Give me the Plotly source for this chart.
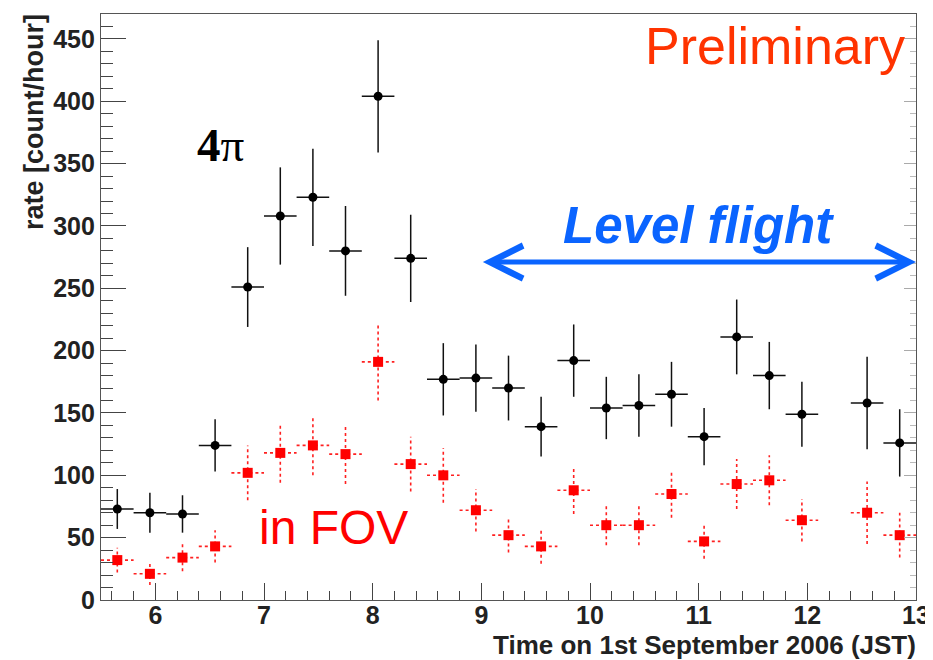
import plotly.graph_objects as go

# ---- data ----
time_center = [5.65, 5.95, 6.25, 6.55, 6.85, 7.15, 7.45, 7.75, 8.05, 8.35, 8.65, 8.95,
               9.25, 9.55, 9.85, 10.15, 10.45, 10.75, 11.05, 11.35, 11.65, 11.95, 12.55, 12.85]
bin_half_width = [0.15] * len(time_center)

rate_4pi = [73, 70, 69, 124, 251, 308, 323, 280, 404, 274, 177, 178,
            170, 139, 192, 154, 156, 165, 131, 211, 180, 149, 158, 126]
err_4pi = [16, 16, 15, 21, 32, 39, 39, 36, 45, 35, 29, 27,
           26, 24, 29, 25, 25, 26, 23, 30, 27, 26, 37, 27]

rate_fov = [32, 21, 34, 43, 102, 118, 124, 117, 191, 109, 100, 72,
            52, 43, 88, 60, 60, 85, 47, 93, 96, 64, 70, 52]
err_fov = [10, 9, 11, 13, 22, 24, 24, 24, 31, 22, 22, 17,
           14, 14, 19, 16, 16, 19, 14, 20, 20, 17, 25, 18]

x_ticks = [6, 7, 8, 9, 10, 11, 12, 13]
y_ticks = [0, 50, 100, 150, 200, 250, 300, 350, 400, 450]
level_flight = [9.0, 13.0]

fig = go.Figure()

# red dotted error bars (in FOV)
ex, ey = [], []
for xc, yc, e, hw in zip(time_center, rate_fov, err_fov, bin_half_width):
    ex += [xc, xc, None, xc - hw, xc + hw, None]
    ey += [yc - e, yc + e, None, yc, yc, None]
fig.add_trace(go.Scatter(x=ex, y=ey, mode="lines",
                         line=dict(color="#ff2020", width=1.6, dash="dot"),
                         hoverinfo="skip", showlegend=False))
fig.add_trace(go.Scatter(x=time_center, y=rate_fov, mode="markers",
                         marker=dict(symbol="square", size=10, color="#ff0000"),
                         name="in FOV", showlegend=False))

# black (4pi)
fig.add_trace(go.Scatter(
    x=time_center, y=rate_4pi, mode="markers",
    marker=dict(symbol="circle", size=9, color="#000000"),
    error_y=dict(type="data", array=err_4pi, color="#111111", thickness=1.5, width=0),
    error_x=dict(type="data", array=bin_half_width, color="#111111", thickness=1.5, width=0),
    name="4pi", showlegend=False))

# invisible trace to carry the right-hand tick axis
fig.add_trace(go.Scatter(x=time_center, y=rate_4pi, yaxis="y2", mode="markers",
                         marker=dict(opacity=0), hoverinfo="skip", showlegend=False))

tickfont = dict(family="Liberation Sans", size=25, color="#222222", weight="bold")

fig.update_layout(
    width=933, height=660,
    margin=dict(l=93, r=25, t=6, b=68),
    paper_bgcolor="white", plot_bgcolor="white",
    xaxis=dict(range=[5.5, 13], tickvals=x_ticks, ticks="inside", ticklen=17,
               tickcolor="#444", tickwidth=1, showgrid=False, zeroline=False,
               showline=True, linecolor="#555", linewidth=1.2, mirror=True,
               tickfont=tickfont, ticklabelstandoff=-7, automargin=False,
               minor=dict(ticks="inside", ticklen=9, dtick=0.2, tick0=5.6,
                          tickcolor="#444", showgrid=False)),
    yaxis=dict(range=[0, 470], tickvals=y_ticks, ticks="inside", ticklen=25,
               tickcolor="#444", tickwidth=1, showgrid=False, zeroline=False,
               showline=True, linecolor="#555", linewidth=1.2, mirror=True,
               tickfont=tickfont, ticklabelstandoff=0, automargin=False,
               minor=dict(ticks="inside", ticklen=12, dtick=10,
                          tickcolor="#444", showgrid=False)),
    yaxis2=dict(range=[0, 470], overlaying="y", side="right", tickvals=y_ticks,
                ticks="inside", ticklen=12, tickcolor="#aaa", showticklabels=False,
                showgrid=False, zeroline=False, showline=False, automargin=False,
                minor=dict(ticks="inside", ticklen=6, dtick=10, tickcolor="#bbb",
                           showgrid=False)),
)

# axis titles
fig.add_annotation(text="rate [count/hour]", xref="paper", yref="paper",
                   x=0, y=1, xanchor="right", yanchor="top", xshift=-50, yshift=2,
                   textangle=-90, showarrow=False,
                   font=dict(family="Liberation Sans", size=27, color="#222", weight="bold"))
fig.add_annotation(text="Time on 1st September 2006 (JST)", xref="paper", yref="paper",
                   x=1, y=0, xanchor="right", yanchor="middle", yshift=-45, xshift=2,
                   showarrow=False,
                   font=dict(family="Liberation Sans", size=26, color="#222", weight="bold"))

# labels in the plot
fig.add_annotation(text="Preliminary", x=12.92, y=444, xanchor="right", yanchor="middle",
                   showarrow=False,
                   font=dict(family="Liberation Sans", size=52, color="#ff3300"))
fig.add_annotation(text="<b>4</b>π", x=6.6, y=365, xanchor="center", yanchor="middle",
                   showarrow=False,
                   font=dict(family="Liberation Serif", size=47, color="#000000"))
fig.add_annotation(text="in FOV", x=7.64, y=58, xanchor="center", yanchor="middle",
                   showarrow=False,
                   font=dict(family="Liberation Sans", size=48, color="#ff0000"))
fig.add_annotation(text="<b><i>Level flight</i></b>", x=11.0, y=300, xanchor="center",
                   yanchor="middle", showarrow=False,
                   font=dict(family="Liberation Sans", size=51, color="#0a64ff"))
fig.add_annotation(x=level_flight[1], y=271, ax=level_flight[0], ay=271,
                   xref="x", yref="y", axref="x", ayref="y", text="",
                   showarrow=True, arrowhead=5, arrowside="end+start",
                   arrowwidth=5, arrowsize=1.3, arrowcolor="#0a64ff")

fig.write_html("out.html")
